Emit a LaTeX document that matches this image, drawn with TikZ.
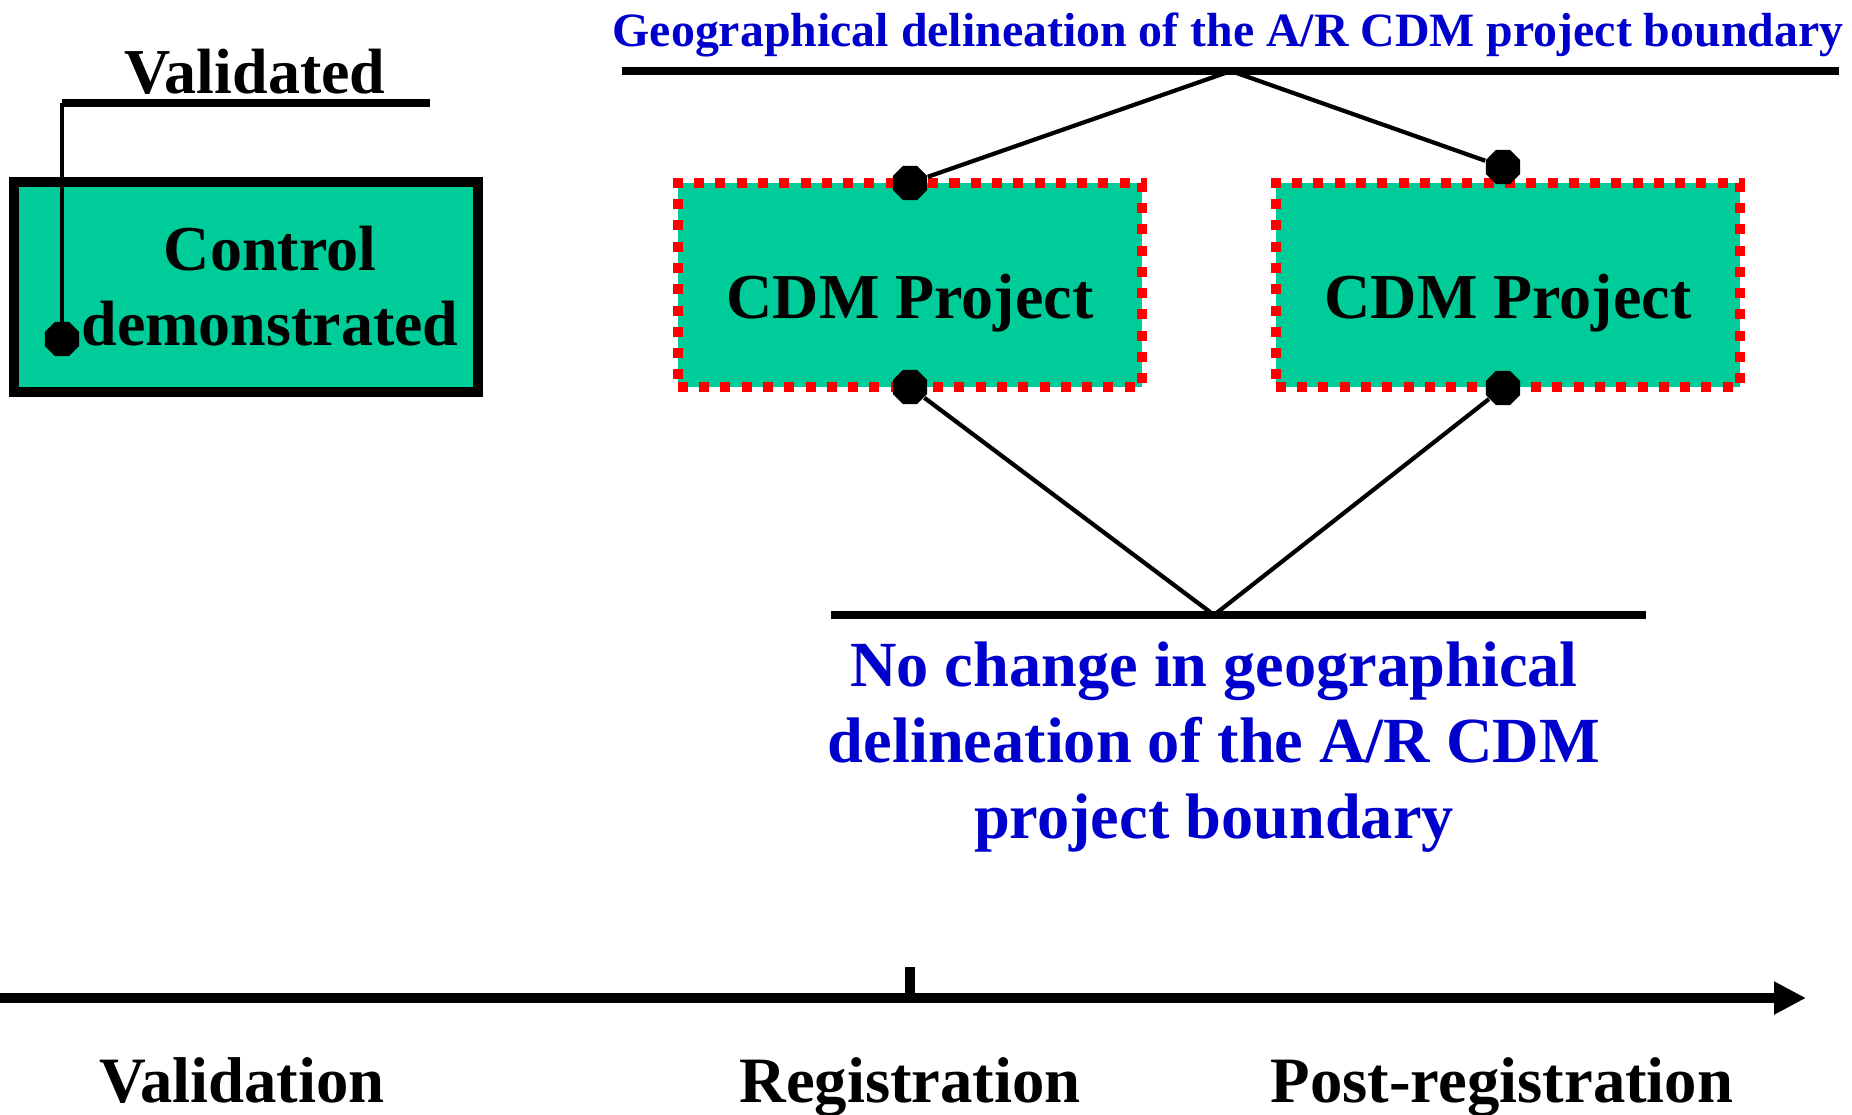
\documentclass[tikz,border=0pt]{standalone}
\usepackage{fontspec}
\setmainfont{Liberation Serif}
\usetikzlibrary{shapes.geometric,arrows.meta}
\definecolor{cdmgreen}{HTML}{00CC99}
\definecolor{cdmblue}{HTML}{0000CC}
\definecolor{cdmred}{HTML}{FF0000}

\begin{document}
\begin{tikzpicture}[x=0.01cm, y=-0.01cm,
    bigtext/.style={font=\fontsize{18.2pt}{21.3pt}\selectfont\bfseries},
    steptext/.style={font=\fontsize{18.4pt}{22pt}\selectfont\bfseries, anchor=base},
    projbox/.style={fill=cdmgreen, draw=cdmred, line width=2.85pt, dash pattern=on 2.85pt off 3.2pt,
        minimum width=4.64cm, minimum height=2.04cm, inner sep=0pt, text height=0.80cm, text depth=0.14cm, bigtext},
    ctrlbox/.style={fill=cdmgreen, draw=black, line width=2.85pt, minimum width=4.64cm, minimum height=2.09cm, inner sep=0pt},
    dot/.style={regular polygon, regular polygon sides=8, minimum size=0.37cm, fill=black, inner sep=0pt},
    edge/.style={line width=1.2pt},
    bar/.style={line width=2pt}
]
    \useasboundingbox (0,0) rectangle (1852,1114);

    % Draw nodes for the validation stage
    \node[ctrlbox] (ctrl) at (246,287) {};
    \node[bigtext, align=center] (ctrltext) at (270,286) {Control\\demonstrated};
    \node[font=\fontsize{18.2pt}{20pt}\selectfont\bfseries, anchor=base] (valid) at (255,93) {Validated};

    % Draw nodes for the projects
    \node[projbox] (proj1) at (910,285) {CDM Project};
    \node[projbox] (proj2) at (1508,285) {CDM Project};
    \node[font=\fontsize{13.6pt}{16pt}\selectfont\bfseries, text=cdmblue, anchor=base] (geo) at (1228,46)
        {Geographical delineation of the A/R CDM project boundary};
    \node[font=\fontsize{18.3pt}{21.5pt}\selectfont\bfseries, text=cdmblue, align=center] (nochange) at (1214,747)
        {No change in geographical\\delineation of the A/R CDM\\project boundary};

    % Draw coordinates for the lines
    \coordinate (vcorner) at (62,103);
    \coordinate (vend) at (430,103);
    \coordinate (topleft) at (622,71);
    \coordinate (topright) at (1839,71);
    \coordinate (topapex) at (1231,71);
    \coordinate (botleft) at (831,615);
    \coordinate (botright) at (1646,615);
    \coordinate (botapex) at (1214,615);
    \coordinate (axisstart) at (0,998);
    \coordinate (axisend) at (1806,998);
    \coordinate (ticktop) at (910,967);
    \coordinate (tickbase) at (910,998);

    % Draw edges
    \draw[bar] (vcorner) -- (vend);
    \draw[bar] (topleft) -- (topright);
    \draw[line width=2.3pt] (botleft) -- (botright);
    \node[dot] (cdot) at (62,339) {};
    \node[dot] (p1top) at (910,183) {};
    \node[dot] (p2top) at (1503,167) {};
    \node[dot] (p1bot) at (910,387) {};
    \node[dot] (p2bot) at (1503,388) {};
    \draw[edge] (cdot.center) -- (vcorner);
    \draw[edge] (topapex) -- (p1top);
    \draw[edge] (topapex) -- (p2top);
    \draw[edge] (p1bot) -- (botapex);
    \draw[edge] (p2bot) -- (botapex);

    % Draw time axis
    \draw[line width=2.85pt, -{Triangle[length=0.32cm, width=0.31cm]}] (axisstart) -- (axisend);
    \draw[line width=2.85pt] (tickbase) -- (ticktop);
    \node[steptext] (validation) at (242,1102) {Validation};
    \node[steptext] (registration) at (910,1102) {Registration};
    \node[steptext] (postreg) at (1502,1102) {Post-registration};
\end{tikzpicture}
\end{document}
